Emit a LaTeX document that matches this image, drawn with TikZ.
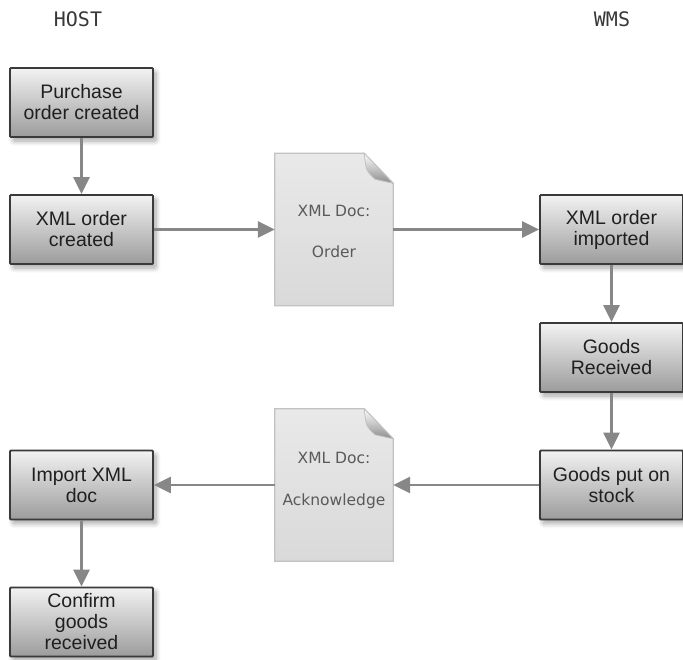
\documentclass[tikz,border=0pt]{standalone}
\usepackage{fontspec}
\setmainfont{Liberation Sans}
\newfontfamily\docfont{DejaVu Sans}
\newfontfamily\headfont{DejaVu Sans Mono}
\usetikzlibrary{arrows.meta,shadows.blur,calc}

\definecolor{boxtop}{HTML}{F2F2F2}
\definecolor{boxbot}{HTML}{9C9C9C}
\definecolor{boxline}{HTML}{3A3A3A}
\definecolor{arrowgray}{HTML}{878787}
\definecolor{doctop}{HTML}{E9E9E9}
\definecolor{docbot}{HTML}{D9D9D9}
\definecolor{docline}{HTML}{C2C2C2}
\definecolor{doctext}{HTML}{5A5A5A}
\definecolor{headtext}{HTML}{383838}

\tikzset{
  stepbox/.style={draw=boxline, line width=1.8pt, top color=boxtop, bottom color=boxbot,
    minimum width=143pt, minimum height=69pt, inner sep=2pt, align=center,
    font=\fontsize{19.5}{21}\selectfont, text=black!88, rounded corners=1pt,
    blur shadow={shadow xshift=3pt, shadow yshift=-4pt, shadow blur radius=5pt,
      shadow blur steps=8, shadow opacity=35}},
  docnode/.style={minimum width=118pt, minimum height=152pt, inner sep=0pt},
  docbody/.style={draw=docline, line width=1.3pt, top color=doctop, bottom color=docbot},
  docflap/.style={draw=docline, line width=0.8pt, top color=white, bottom color=black!45},
  doclabel/.style={font=\docfont\fontsize{15.5}{18}\selectfont, text=doctext, anchor=base},
  flow/.style={draw=arrowgray, line width=2.6pt, -{Triangle[length=17pt,width=16pt]}},
  header/.style={font=\headfont\fontsize{20}{24}\selectfont, text=headtext, anchor=base},
}

% paper sheet with a curled top-right corner, drawn over a named node
\newcommand\drawdocsheet[1]{%
  \draw[docbody] (#1.north west) -- ($(#1.north east)+(-29,0)$)
    -- ($(#1.north east)+(0,30)$) -- (#1.south east) -- (#1.south west) -- cycle;
  \draw[docflap] ($(#1.north east)+(-29,0)$)
    .. controls ($(#1.north east)+(-27,18)$) .. ($(#1.north east)+(-18,26)$)
    -- ($(#1.north east)+(0,30)$) -- cycle;
}

\begin{document}
\begin{tikzpicture}[x=1pt,y=-1pt]
\useasboundingbox (0,0) rectangle (683,659);

% column headers
\node[header] (host) at (78,26) {HOST};
\node[header] (wms) at (612,26) {WMS};

% host side
\node[stepbox] (po)   at (81.5,102.5) {Purchase\\order created};
\node[stepbox] (xoc)  at (81.5,229.5) {XML order\\created};
\node[stepbox] (imp)  at (81.5,485)   {Import XML\\doc};
\node[stepbox] (conf) at (81.5,622)   {Confirm\\goods\\received};

% WMS side
\node[stepbox] (xoi) at (611.5,229.5) {XML order\\imported};
\node[stepbox] (gr)  at (611.5,357.5) {Goods\\Received};
\node[stepbox] (gps) at (611.5,485)   {Goods put on\\stock};

% exchanged documents
\node[docnode] (order) at (334,229.5) {};
\node[docnode] (ack)   at (334,485)   {};
\drawdocsheet{order}
\drawdocsheet{ack}
\node[doclabel] (ordert1) at ($(order.center)+(0,-13)$) {XML Doc:};
\node[doclabel] (ordert2) at ($(order.center)+(0,28)$)  {Order};
\node[doclabel] (ackt1)   at ($(ack.center)+(0,-22)$)   {XML Doc:};
\node[doclabel] (ackt2)   at ($(ack.center)+(0,20)$)    {Acknowledge};

% flow
\draw[flow] (po) -- (xoc);
\draw[flow] (xoc) -- (order);
\draw[flow] (order) -- (xoi);
\draw[flow] (xoi) -- (gr);
\draw[flow] (gr) -- (gps);
\draw[flow] (gps) -- (ack);
\draw[flow] (ack) -- (imp);
\draw[flow] (imp) -- (conf);
\end{tikzpicture}
\end{document}
